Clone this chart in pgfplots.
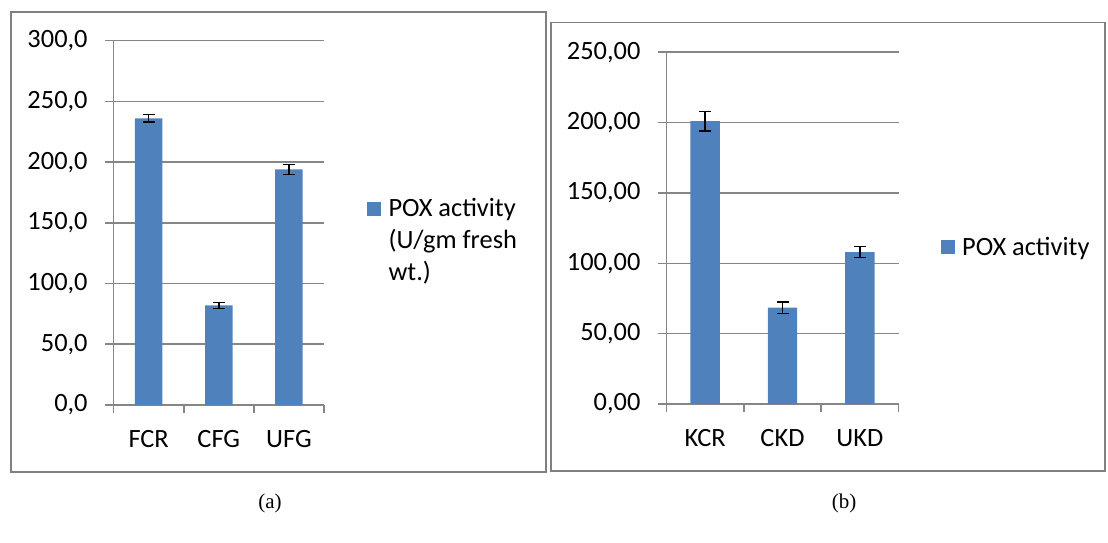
\documentclass[border=0pt]{standalone}
\usepackage{fontspec}
\setmainfont{Carlito}
\newfontfamily\capfont{Liberation Serif}
\usepackage{pgfplots}
\pgfplotsset{compat=1.18}

\definecolor{barblue}{RGB}{79,129,189}
\definecolor{gridgray}{RGB}{134,134,134}
\definecolor{framegray}{RGB}{128,128,128}
\newcommand\cf{\fontsize{13.2pt}{16pt}\selectfont}

% shared look of both Excel-style panels
\pgfplotsset{
  excel/.style={
    scale only axis,
    anchor=south west,
    axis lines*=left,
    axis line style={gridgray, line width=0.8pt},
    ymajorgrids,
    grid style={gridgray, line width=0.8pt},
    tick align=outside,
    major tick length=4.3pt,
    minor tick length=4pt,
    tick style={gridgray, line width=0.8pt},
    major x tick style={draw=none},
    xmin=-0.5, xmax=2.5,
    xtick={0,1,2},
    minor xtick={-0.5,0.5,1.5,2.5},
    ymin=0,
    ybar,
    font=\cf,
    /pgf/number format/assume math mode=true,
    /pgf/number format/.cd, fixed, fixed zerofill, use comma, 1000 sep={},
    /pgfplots/.cd,
    xticklabel style={anchor=base, inner sep=0pt, yshift=-17pt},
    yticklabel style={anchor=east, inner sep=0pt, xshift=-8.5pt},
    legend image code/.code={\fill[barblue] (0pt,-4.5pt) rectangle (7pt,2.5pt);},
    legend style={draw=none, fill=none, inner sep=0pt, outer sep=0pt,
      nodes={inner sep=0pt, outer sep=0pt}, column sep=3.8pt, font=\cf,
      anchor=north west},
    error bars/error bar style={black, line width=0.7pt},
    error bars/error mark options={rotate=90, mark size=3pt, black, line width=0.7pt},
  }
}

\begin{document}
\begin{tikzpicture}
\useasboundingbox (0,0) rectangle (554pt,271pt);

% panel frames
\draw[framegray, line width=0.8pt] (5.35pt,35.15pt) rectangle (273pt,265pt);
\draw[framegray, line width=0.8pt] (275.5pt,35.5pt) rectangle (552.5pt,259.65pt);

% (a) FCR / CFG / UFG
\begin{axis}[excel,
    at={(56.8pt,68.5pt)},
    width=105.2pt, height=182.15pt,
    ymax=300, ytick={0,50,...,300},
    yticklabel style={/pgf/number format/precision=1},
    xticklabels={FCR,CFG,UFG},
    bar width=13.75pt,
    legend style={at={(axis description cs:1.204,0.5776)}},
]
\addplot[fill=barblue, draw=none,
    error bars/.cd, y dir=both, y explicit]
    coordinates {(0,236) +- (0,3) (1,82) +- (0,2.3) (2,194) +- (0,4.2)};
\addlegendentry{\begin{tabular}[t]{@{}l@{}}POX activity\\(U/gm fresh\\wt.)\end{tabular}}
\end{axis}

% (b) KCR / CKD / UKD
\begin{axis}[excel,
    at={(333.2pt,69pt)},
    width=116.1pt, height=175.85pt,
    ymax=250, ytick={0,50,...,250},
    yticklabel style={/pgf/number format/precision=2},
    xticklabels={KCR,CKD,UKD},
    bar width=14.7pt,
    legend style={at={(axis description cs:1.181,0.4873)}},
]
\addplot[fill=barblue, draw=none,
    error bars/.cd, y dir=both, y explicit]
    coordinates {(0,201) +- (0,7) (1,68.5) +- (0,4) (2,108) +- (0,4)};
\addlegendentry{\begin{tabular}[t]{@{}l@{}}POX activity\end{tabular}}
\end{axis}

\node[font=\capfont\fontsize{10.5pt}{12pt}\selectfont] at (135pt,19.5pt) {(a)};
\node[font=\capfont\fontsize{10.5pt}{12pt}\selectfont] at (422pt,19.5pt) {(b)};
\end{tikzpicture}
\end{document}
